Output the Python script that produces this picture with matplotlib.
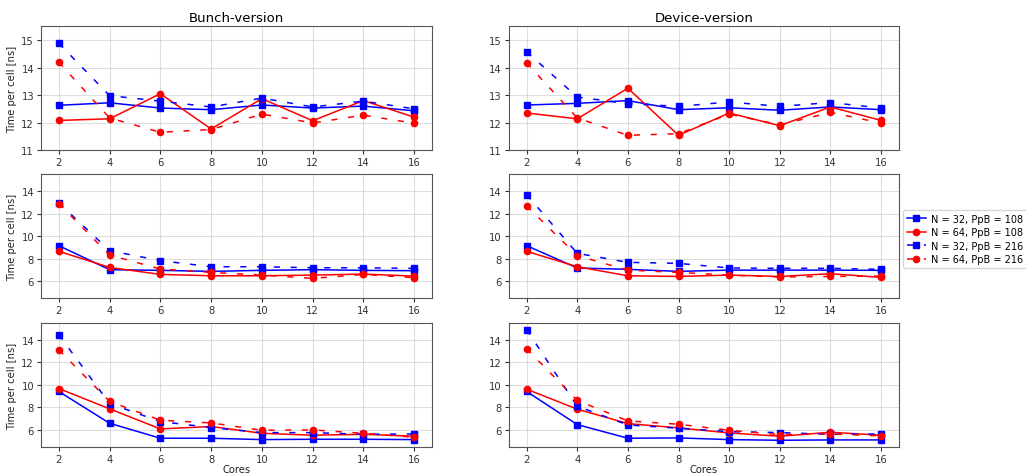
import matplotlib
matplotlib.use("Agg")
import matplotlib.pyplot as plt

cores = [2, 4, 6, 8, 10, 12, 14, 16]
labels = ["N = 32, PpB = 108", "N = 64, PpB = 108", "N = 32, PpB = 216", "N = 64, PpB = 216"]
titles = ["Bunch-version", "Device-version"]

# row 1
bunch_r1_n32_108 = [12.63, 12.72, 12.53, 12.47, 12.64, 12.53, 12.60, 12.43]
bunch_r1_n64_108 = [12.08, 12.14, 13.05, 11.77, 12.87, 12.07, 12.80, 12.20]
bunch_r1_n32_216 = [14.88, 12.98, 12.78, 12.57, 12.89, 12.57, 12.78, 12.50]
bunch_r1_n64_216 = [14.19, 12.17, 11.65, 11.75, 12.31, 11.99, 12.27, 11.98]
device_r1_n32_108 = [12.64, 12.70, 12.80, 12.47, 12.54, 12.45, 12.57, 12.47]
device_r1_n64_108 = [12.35, 12.14, 13.25, 11.54, 12.35, 11.89, 12.57, 12.08]
device_r1_n32_216 = [14.57, 12.93, 12.69, 12.59, 12.75, 12.59, 12.73, 12.53]
device_r1_n64_216 = [14.17, 12.17, 11.54, 11.60, 12.31, 11.92, 12.37, 11.99]
# row 2
bunch_r2_n32_108 = [9.17, 7.04, 6.98, 6.89, 6.98, 7.04, 6.98, 6.95]
bunch_r2_n64_108 = [8.67, 7.24, 6.62, 6.50, 6.50, 6.56, 6.65, 6.47]
bunch_r2_n32_216 = [12.96, 8.73, 7.84, 7.30, 7.30, 7.21, 7.21, 7.16]
bunch_r2_n64_216 = [12.90, 8.34, 7.10, 6.80, 6.56, 6.27, 6.62, 6.33]
device_r2_n32_108 = [9.17, 7.19, 7.07, 6.89, 7.00, 7.00, 7.00, 6.98]
device_r2_n64_108 = [8.67, 7.30, 6.50, 6.44, 6.56, 6.44, 6.68, 6.36]
device_r2_n32_216 = [13.70, 8.49, 7.69, 7.60, 7.19, 7.16, 7.16, 7.07]
device_r2_n64_216 = [12.70, 8.28, 7.00, 6.80, 6.56, 6.39, 6.44, 6.47]
# row 3
bunch_r3_n32_108 = [9.41, 6.59, 5.26, 5.26, 5.14, 5.17, 5.17, 5.14]
bunch_r3_n64_108 = [9.67, 7.87, 6.09, 6.30, 5.70, 5.53, 5.61, 5.44]
bunch_r3_n32_216 = [14.44, 8.34, 6.74, 6.21, 5.76, 5.76, 5.61, 5.64]
bunch_r3_n64_216 = [13.11, 8.52, 6.86, 6.62, 5.97, 6.00, 5.70, 5.35]
device_r3_n32_108 = [9.41, 6.47, 5.26, 5.29, 5.14, 5.08, 5.11, 5.11]
device_r3_n64_108 = [9.61, 7.84, 6.56, 6.18, 5.73, 5.44, 5.79, 5.53]
device_r3_n32_216 = [14.89, 8.10, 6.44, 6.15, 5.85, 5.76, 5.61, 5.64]
device_r3_n64_216 = [13.20, 8.61, 6.80, 6.50, 5.97, 5.58, 5.64, 5.47]

panels = [
    [[bunch_r1_n32_108, bunch_r1_n64_108, bunch_r1_n32_216, bunch_r1_n64_216],
     [device_r1_n32_108, device_r1_n64_108, device_r1_n32_216, device_r1_n64_216]],
    [[bunch_r2_n32_108, bunch_r2_n64_108, bunch_r2_n32_216, bunch_r2_n64_216],
     [device_r2_n32_108, device_r2_n64_108, device_r2_n32_216, device_r2_n64_216]],
    [[bunch_r3_n32_108, bunch_r3_n64_108, bunch_r3_n32_216, bunch_r3_n64_216],
     [device_r3_n32_108, device_r3_n64_108, device_r3_n32_216, device_r3_n64_216]],
]
ylims = [(11, 15.5), (4.5, 15.5), (4.45, 15.45)]
yticks = [[11, 12, 13, 14, 15], [6, 8, 10, 12, 14], [6, 8, 10, 12, 14]]

colors = ["blue", "red", "blue", "red"]
markers = ["s", "o", "s", "o"]
styles = ["-", "-", (0, (4, 7)), (0, (4, 7))]

fig = plt.figure(figsize=(10.26, 4.77), dpi=100)
lefts = [0.040, 0.496]
width = [0.381, 0.380]
bottoms = [0.683, 0.3725, 0.060]
height = 0.260

handles = None
for r in range(3):
    for c in range(2):
        ax = fig.add_axes([lefts[c], bottoms[r], width[c], height])
        hs = []
        for k in range(4):
            h, = ax.plot(cores, panels[r][c][k], color=colors[k], marker=markers[k],
                         linestyle=styles[k], linewidth=1.1, markersize=4.5, label=labels[k])
            hs.append(h)
        handles = hs
        ax.set_xlim(1.3, 16.7)
        ax.set_ylim(*ylims[r])
        ax.set_xticks(cores)
        ax.set_yticks(yticks[r])
        ax.grid(True, color="#c8c8c8", alpha=0.6, linewidth=0.8)
        ax.tick_params(labelsize=7.2, colors="#333333", length=3, pad=2)
        for s in ax.spines.values():
            s.set_color("#555555")
        if c == 0:
            ax.set_ylabel("Time per cell [ns]", fontsize=7.2, color="#222222", labelpad=3)
        if r == 0:
            ax.set_title(titles[c], fontsize=9.5, pad=4)
        if r == 2:
            ax.set_xlabel("Cores", fontsize=7.2, color="#222222", labelpad=0)

fig.legend(handles, labels, loc="center left", bbox_to_anchor=(0.880, 0.497),
           fontsize=7, frameon=True, handlelength=2.0, handletextpad=0.5,
           labelspacing=0.35, borderpad=0.4, borderaxespad=0)
fig.savefig("out.png", dpi=100)
